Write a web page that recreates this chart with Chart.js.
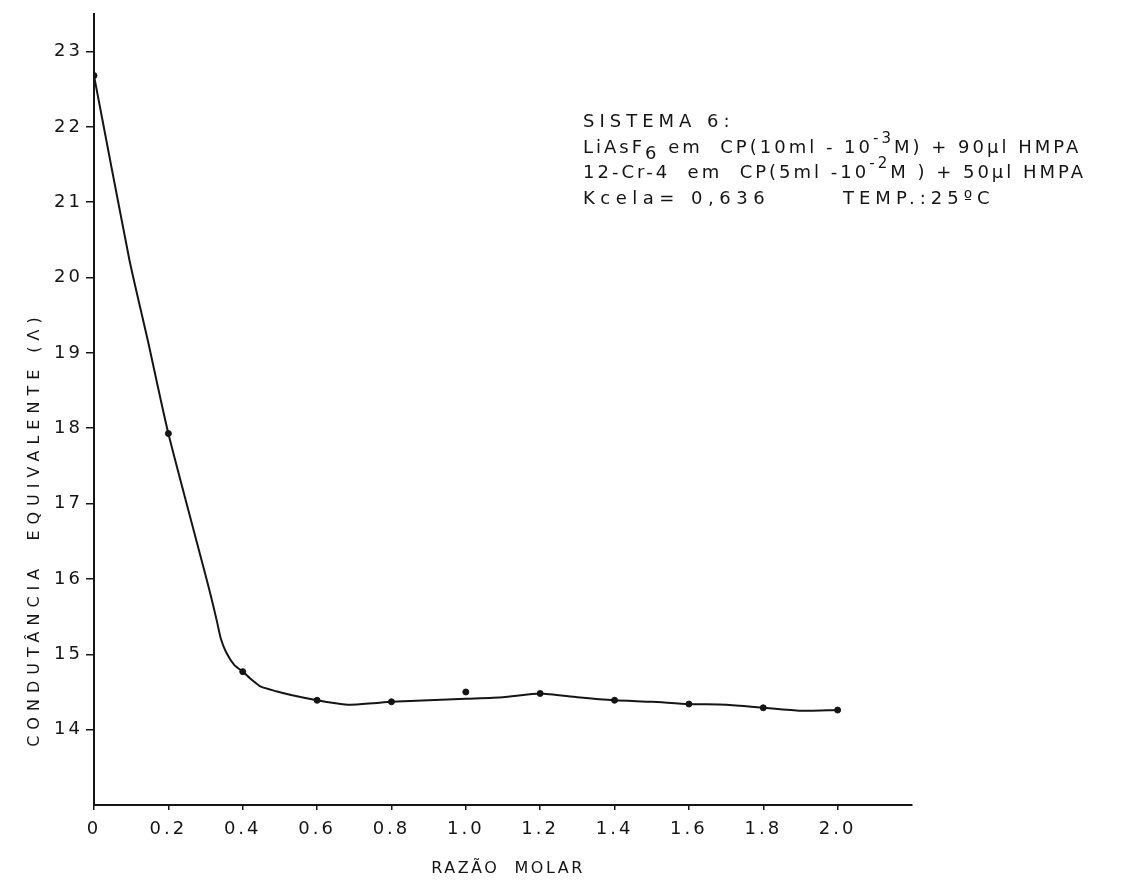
<!DOCTYPE html>
<html>
<head>
<meta charset="utf-8">
<script src="https://cdn.jsdelivr.net/npm/chart.js@4.4.1/dist/chart.umd.min.js"></script>
<style>
  html, body { margin: 0; background: #fff; }
  #wrap { width: 1129px; height: 882px; }
</style>
</head>
<body>
<div id="wrap"><canvas id="grafico"></canvas></div>
<script>
// pontos medidos (razao molar x condutancia equivalente)
const razaoMolar = [0, 0.2, 0.4, 0.6, 0.8, 1.0, 1.2, 1.4, 1.6, 1.8, 2.0];
const condutancia = [22.68, 17.93, 14.77, 14.39, 14.37, 14.50, 14.48, 14.39, 14.34, 14.29, 14.26];

// curva tracada a mao
const curvaX = [0, 0.095, 0.144, 0.2, 0.3, 0.318, 0.33, 0.341, 0.355, 0.377, 0.4, 0.425, 0.449, 0.49, 0.53, 0.6, 0.65, 0.69, 0.75, 0.8, 0.9, 1.0, 1.1, 1.2, 1.3, 1.4, 1.5, 1.6, 1.7, 1.8, 1.9, 2.0];
const curvaY = [22.68, 20.24, 19.18, 17.93, 16.05, 15.7, 15.45, 15.21, 15.03, 14.86, 14.77, 14.66, 14.57, 14.51, 14.46, 14.39, 14.35, 14.33, 14.35, 14.37, 14.39, 14.41, 14.43, 14.48, 14.43, 14.39, 14.37, 14.34, 14.33, 14.29, 14.25, 14.26];

const ticksX = [0, 0.2, 0.4, 0.6, 0.8, 1.0, 1.2, 1.4, 1.6, 1.8, 2.0];
const ticksY = [14, 15, 16, 17, 18, 19, 20, 21, 22, 23];

const tituloX = "RAZÃO  MOLAR";
const tituloY = "CONDUTÂNCIA  EQUIVALENTE (Λ)";

// legenda do sistema
const linhasSistema = [
  [{ t: "SISTEMA 6:", esp: 5 }],
  [{ t: "LiAsF" }, { t: "6", sub: true }, { t: " em  CP(10ml - 10" }, { t: "-3", sup: true }, { t: "M) + 90µl HMPA" }],
  [{ t: "12-Cr-4  em  CP(5ml -10" }, { t: "-2", sup: true }, { t: "M ) + 50µl HMPA" }],
  [{ t: "Kcela= 0,636", esp: 5.5 }]
];
const temperatura = "TEMP.:25ºC";

const FONTE = '"DejaVu Sans", sans-serif';
const cor = "#151515";

function escreveLinha(ctx, partes, x, y) {
  partes.forEach(p => {
    let dy = 0, tam = 18;
    if (p.sup) { dy = -10; tam = 15; }
    if (p.sub) { dy = 6; tam = 18; }
    ctx.letterSpacing = (p.esp || 3) + "px";
    ctx.font = tam + "px " + FONTE;
    ctx.fillText(p.t, x, y + dy);
    x += ctx.measureText(p.t).width;
  });
}

const textos = {
  id: "textos",
  beforeDraw(chart) {
    chart.ctx.letterSpacing = "3px";
  },
  afterDraw(chart) {
    const ctx = chart.ctx;
    ctx.save();
    ctx.fillStyle = cor;
    ctx.textBaseline = "alphabetic";
    ctx.textAlign = "left";
    linhasSistema.forEach((linha, i) => escreveLinha(ctx, linha, 583, 127 + i * 25.5));
    ctx.letterSpacing = "5px";
    ctx.font = "18px " + FONTE;
    ctx.fillText(temperatura, 843, 127 + 3 * 25.5);

    // titulo do eixo x
    ctx.letterSpacing = "2.5px";
    ctx.font = "16px " + FONTE;
    ctx.textAlign = "center";
    ctx.fillText(tituloX, 508, 873);

    // titulo do eixo y
    ctx.translate(39, 529);
    ctx.rotate(-Math.PI / 2);
    ctx.letterSpacing = "6px";
    ctx.fillText(tituloY, 0, 0);
    ctx.restore();
  }
};

new Chart(document.getElementById("grafico"), {
  type: "scatter",
  data: {
    datasets: [
      {
        label: "curva",
        data: curvaX.map((x, i) => ({ x: x, y: curvaY[i] })),
        showLine: true,
        borderColor: cor,
        borderWidth: 2,
        pointRadius: 0,
        tension: 0.2
      },
      {
        label: "medidas",
        data: razaoMolar.map((x, i) => ({ x: x, y: condutancia[i] })),
        backgroundColor: cor,
        borderColor: cor,
        pointRadius: 3,
        borderWidth: 1
      }
    ]
  },
  options: {
    responsive: true,
    maintainAspectRatio: false,
    animation: false,
    layout: { padding: { top: 12, right: 217, left: 0, bottom: 0 } },
    plugins: {
      legend: { display: false },
      tooltip: { enabled: false }
    },
    scales: {
      x: {
        type: "linear",
        min: 0,
        max: 2.2,
        afterBuildTicks: s => { s.ticks = ticksX.map(v => ({ value: v })); },
        afterFit: s => { s.height = 77; },
        ticks: {
          color: cor,
          padding: 9,
          maxRotation: 0,
          font: { family: FONTE, size: 18 },
          callback: v => (v === 0 ? "0" : v.toFixed(1))
        },
        grid: { drawOnChartArea: false, color: cor, tickLength: 5, lineWidth: 1.5 },
        border: { color: cor, width: 2 }
      },
      y: {
        type: "linear",
        min: 13,
        max: 23.5,
        afterBuildTicks: s => { s.ticks = ticksY.map(v => ({ value: v })); },
        afterFit: s => { s.width = 94; },
        ticks: {
          color: cor,
          padding: 3,
          font: { family: FONTE, size: 18 },
          callback: v => String(v)
        },
        grid: { drawOnChartArea: false, color: cor, tickLength: 8, lineWidth: 1.5 },
        border: { color: cor, width: 2 }
      }
    }
  },
  plugins: [textos]
});
</script>
</body>
</html>
